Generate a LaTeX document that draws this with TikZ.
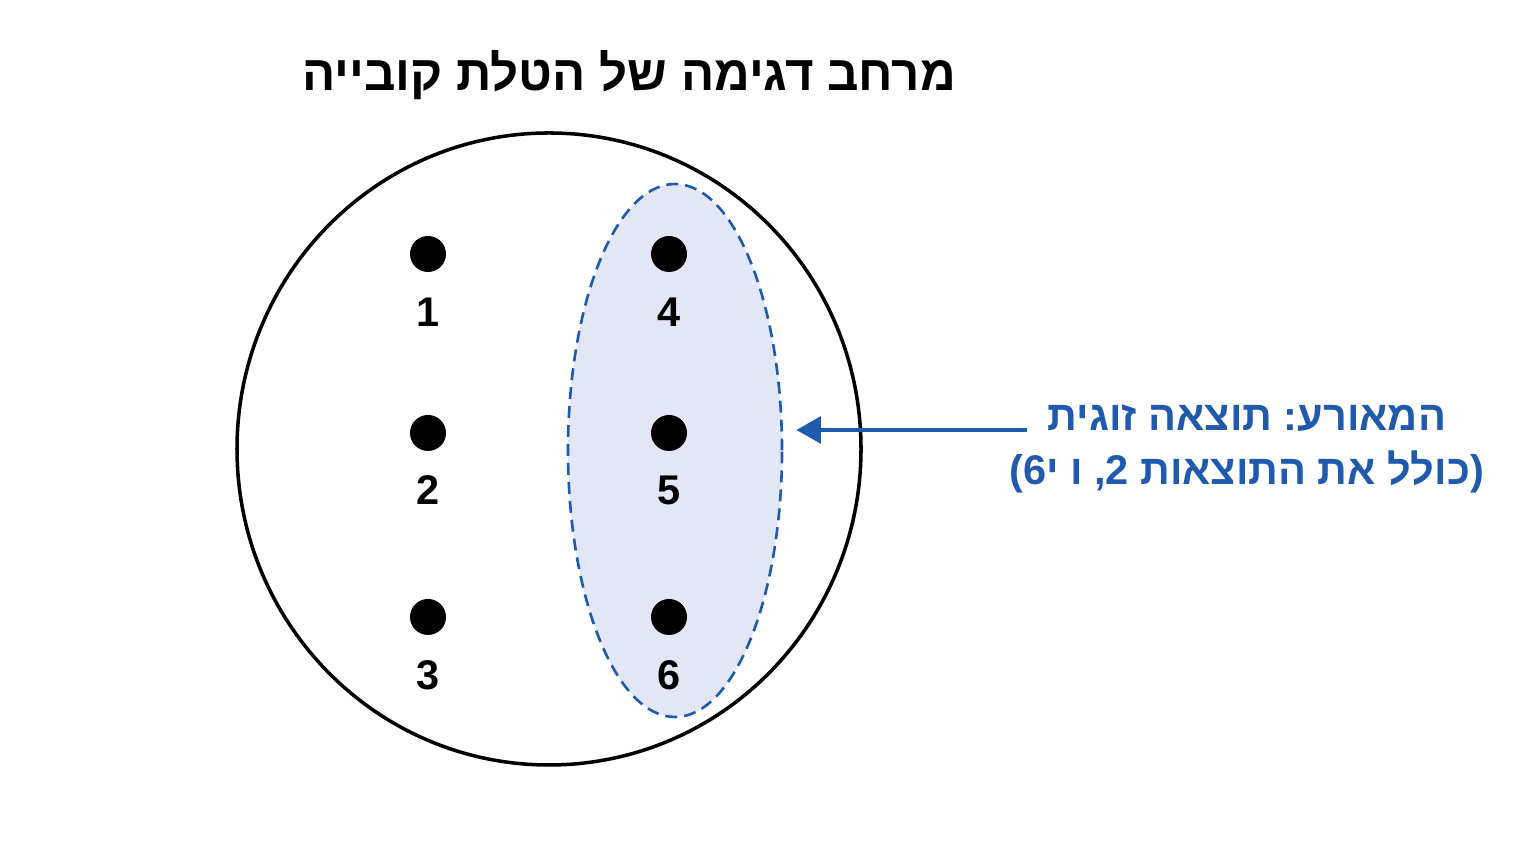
\documentclass[tikz,border=0pt]{standalone}
\usepackage{fontspec}
\setmainfont{Liberation Sans}
\newfontfamily\hebfont[Script=Hebrew]{Liberation Sans}
\TeXXeTstate=1
\frenchspacing
\usetikzlibrary{arrows.meta,shapes.geometric}

\begin{document}
\begin{tikzpicture}[
  outcome/.style={circle,fill=black,inner sep=0pt,minimum size=0.36cm},
  numlabel/.style={font=\fontsize{11.8}{14}\selectfont\bfseries},
  hebtitle/.style={font=\hebfont\fontsize{14}{17}\selectfont\bfseries},
  evlabel/.style={text=ev_blue,font=\hebfont\fontsize{11.8}{15}\selectfont\bfseries},
  space/.style={ellipse,draw=black,line width=1pt,inner sep=0pt,minimum width=6.24cm,minimum height=6.32cm},
  event/.style={ellipse,draw=ev_blue,fill=ev_fill,dash pattern=on 3.4pt off 2pt,line width=0.75pt,
                inner sep=0pt,minimum width=2.14cm,minimum height=5.33cm},
  evarrow/.style={ev_blue,line width=1.4pt,-{Triangle[length=7pt,width=7.5pt]},shorten >=0.13cm}
]

% ------------------------------------------------ event colors
\definecolor{ev_blue}{RGB}{31,90,172}   %#1F5AAC
\definecolor{ev_fill}{RGB}{227,231,245} %#E3E7F5

\useasboundingbox (0,0) rectangle (15.36,8.64);

\node[hebtitle] (title) at (6.29,7.89) {\beginR מרחב דגימה של הטלת קובייה\endR};

\node[space] (omega) at (5.49,4.15) {};
\node[event] (event) at (6.75,4.135) {};

\node[outcome] (o1) at (4.28,6.10) {};
\node[outcome] (o2) at (4.28,4.31) {};
\node[outcome] (o3) at (4.28,2.47) {};
\node[outcome] (o4) at (6.69,6.10) {};
\node[outcome] (o5) at (6.69,4.31) {};
\node[outcome] (o6) at (6.69,2.47) {};

\node[numlabel] (n1) at (4.28,5.52) {1};
\node[numlabel] (n2) at (4.28,3.74) {2};
\node[numlabel] (n3) at (4.28,1.89) {3};
\node[numlabel] (n4) at (6.69,5.52) {4};
\node[numlabel] (n5) at (6.69,3.74) {5};
\node[numlabel] (n6) at (6.69,1.89) {6};

\node[evlabel] (evname) at (12.47,4.46) {\beginR המאורע: תוצאה זוגית\endR};
\node[evlabel] (evlist) at (12.465,3.92) {\beginR (כולל את התוצאות 2, ו י6)\endR};

\coordinate (tail) at (10.27,4.34);
\draw[evarrow] (tail) -- (tail -| event.east);

\end{tikzpicture}
\end{document}
